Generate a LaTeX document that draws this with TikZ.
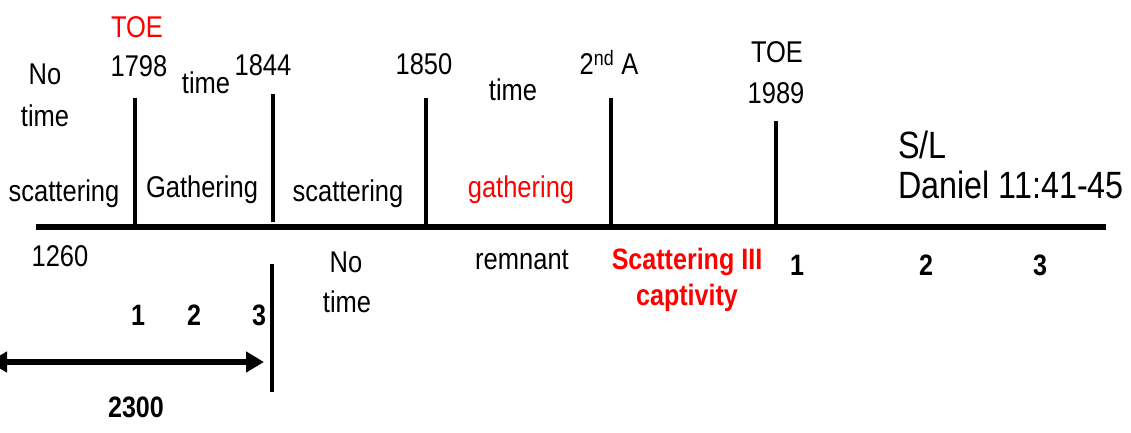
\documentclass[tikz,border=0pt]{standalone}
\usepackage{fontspec}
\setmainfont{Liberation Sans}[FakeStretch=0.85]
\usepackage{xcolor}
\definecolor{rojoTL}{RGB}{255,0,0}
\usepackage{tikz}
\usetikzlibrary{arrows.meta, positioning}

\begin{document}
\begin{tikzpicture}[
  x=1pt, y=-1pt,
  txt/.style={font=\fontsize{30}{36}\selectfont, inner sep=0pt, anchor=base},
  big/.style={font=\fontsize{38}{44}\selectfont, inner sep=0pt, anchor=base west},
  num/.style={font=\bfseries\fontsize{29.5}{35}\selectfont, inner sep=0pt, anchor=base},
  hot/.style={text=rojoTL},
  axis/.style={line width=6pt},
  tick/.style={line width=4.5pt},
  span/.style={{Triangle[length=18pt,width=20pt]}-{Triangle[length=18pt,width=20pt]}, line width=6pt}
]
  \useasboundingbox (0,0) rectangle (1131,433);

  % main line and period marks
  \coordinate (start) at (36,227);
  \coordinate (stop) at (1106,227);
  \draw[axis] (start) -- (stop);

  \coordinate (m1798) at (135,98);
  \coordinate (m1844) at (273,94);
  \coordinate (m1850) at (426,98);
  \coordinate (m2nd) at (611,98);
  \coordinate (m1989) at (776,121);
  \draw[tick] (m1798) -- (m1798 |- start);
  \draw[tick] (m1844) -- ([yshift=5pt]m1844 |- start);
  \draw[tick] (m1850) -- (m1850 |- start);
  \draw[tick] (m2nd) -- (m2nd |- start);
  \draw[tick] (m1989) -- (m1989 |- start);

  % upper labels
  \node[txt, hot] (toe1) at (137,38) {TOE};
  \node[txt] (y1798) at (139,77) {1798};
  \node[txt] (no1) at (45,85) {No};
  \node[txt] (time1) at (45,126) {time};
  \node[txt] (time2) at (206,94) {time};
  \node[txt] (y1844) at (263,76) {1844};
  \node[txt] (y1850) at (424,75) {1850};
  \node[txt] (time3) at (513,101) {time};
  \node[txt] (adv) at (609,75) {2\textsuperscript{nd} A};
  \node[txt] (toe2) at (777,63) {TOE};
  \node[txt] (y1989) at (776,103) {1989};

  \node[txt] (scat1) at (64,201) {scattering};
  \node[txt] (gath1) at (202,197) {Gathering};
  \node[txt] (scat2) at (348,201) {scattering};
  \node[txt, hot] (gath2) at (521,197) {gathering};
  \node[big] (sl) at (898,158) {S/L};
  \node[big] (dan) at (898,198) {Daniel 11:41-45};

  % lower labels
  \node[txt] (y1260) at (60,266) {1260};
  \node[txt] (no2) at (346,272) {No};
  \node[txt] (time4) at (347,312) {time};
  \node[txt] (rem) at (522,269) {remnant};
  \node[num, hot] (scat3) at (687,269) {Scattering III};
  \node[num, hot] (capt) at (687,305) {captivity};
  \node[num] (s1) at (797,275) {1};
  \node[num] (s2) at (926,275) {2};
  \node[num] (s3) at (1040,275) {3};

  % 2300 days
  \coordinate (endtop) at (272,264);
  \coordinate (endbot) at (272,392);
  \draw[tick] (endtop) -- (endbot);
  \node[num] (d1) at (138,325) {1};
  \node[num] (d2) at (194,325) {2};
  \node[num] (d3) at (259,325) {3};
  \coordinate (dfrom) at (-11,362);
  \coordinate (dto) at (264,362);
  \draw[span] (dfrom) -- (dto);
  \node[num] (d2300) at (136,417) {2300};
\end{tikzpicture}
\end{document}
